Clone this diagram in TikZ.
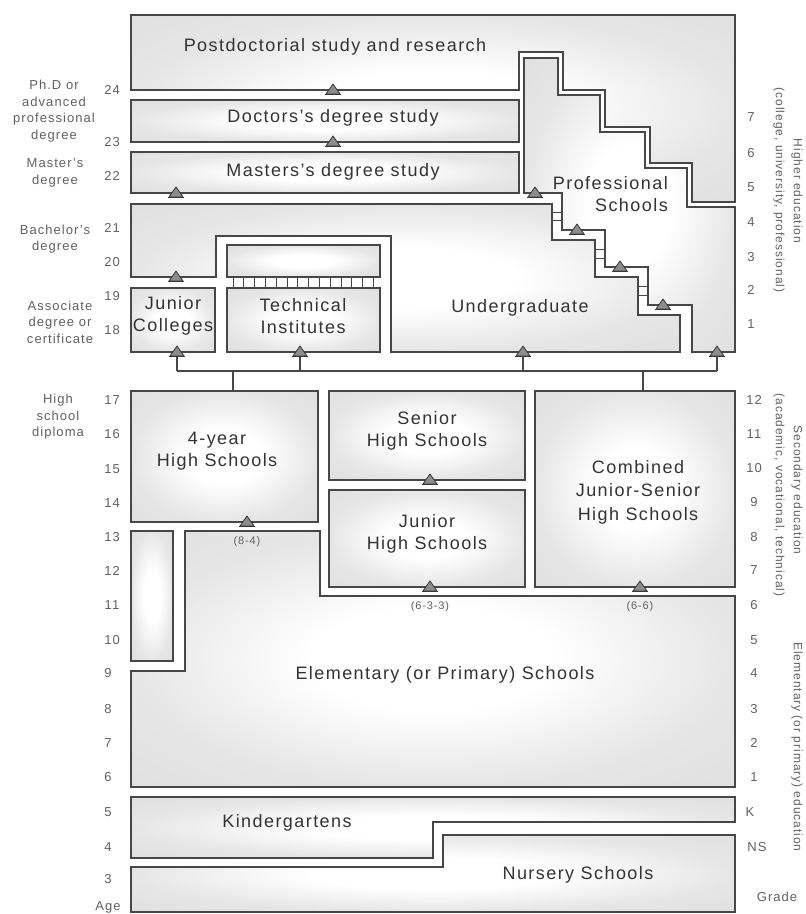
\documentclass[tikz,border=0pt]{standalone}
\usepackage{fontspec}
\setmainfont{Liberation Sans}[LetterSpace=8]
\pgfdeclareradialshading{glow}{\pgfpoint{0bp}{0bp}}{color(0bp)=(white); color(10bp)=(white); color(25bp)=(black!10); color(50bp)=(black!15)}
\newcommand\bigtxt{\fontsize{18}{22}\selectfont}
\newcommand\smtxt{\fontsize{13}{16.5}\selectfont}
\newcommand\rottxt{\fontsize{12}{14}\selectfont}
\newcommand\tintxt{\fontsize{11}{13}\selectfont}
\tikzset{
  box/.style={draw=black!72, line width=1.3pt, shade, shading=glow},
  rung/.style={draw=black!72, line width=0.9pt},
  conn/.style={draw=black!72, line width=1.1pt},
  lab/.style={font=\bigtxt, text=black!80, align=center, inner sep=0pt},
  side/.style={font=\smtxt, text=black!62, align=center, inner sep=0pt},
  num/.style={font=\smtxt, text=black!62, inner sep=0pt},
  rot/.style={font=\rottxt, text=black!62, rotate=-90, inner sep=0pt},
  tri/.pic={\draw[fill=black!45, draw=black!78, line width=0.8pt, line join=round] (-7,4) -- (0,-6) -- (7,4) -- cycle;
            \draw[black!78, line width=0.8pt] (-8,4) -- (8,4);}
}
\begin{document}
\begin{tikzpicture}[x=1pt,y=-1pt]
\useasboundingbox (0,0) rectangle (806,914);

% ---------------- higher education ----------------
\path[box] (131,15) -- (735,15) -- (735,202) -- (692,202) -- (692,163) -- (650,163)
  -- (650,127) -- (605,127) -- (605,90) -- (563,90) -- (563,52) -- (519,52) -- (519,90)
  -- (131,90) -- cycle;
\path[box] (131,100) rectangle (519,142);
\path[box] (131,152) rectangle (519,193);
\path[box] (524,58) -- (558,58) -- (558,95) -- (600,95) -- (600,132) -- (645,132)
  -- (645,168) -- (687,168) -- (687,207) -- (735,207) -- (735,352) -- (692,352)
  -- (692,305) -- (648,305) -- (648,267) -- (605,267) -- (605,230) -- (562,230)
  -- (562,193) -- (524,193) -- cycle;
\path[box] (131,204) -- (552,204) -- (552,240) -- (595,240) -- (595,277) -- (638,277)
  -- (638,315) -- (680,315) -- (680,352) -- (391,352) -- (391,236) -- (216,236)
  -- (216,277) -- (131,277) -- cycle;
\path[box] (227,245) rectangle (380,277);
\path[box] (227,288) rectangle (380,352);
\path[box] (131,288) rectangle (215,352);

% ladders
\foreach \i in {0,...,13} \draw[rung] (233+10.8*\i,277) -- (233+10.8*\i,288);
\foreach \y in {212,220} \draw[rung] (552,\y) -- (562,\y);
\foreach \y in {249,258} \draw[rung] (595,\y) -- (605,\y);
\foreach \y in {286,295} \draw[rung] (638,\y) -- (648,\y);

% ---------------- secondary ----------------
\path[box] (131,391) rectangle (318,522);
\path[box] (329,391) rectangle (525,480);
\path[box] (329,490) rectangle (525,587);
\path[box] (535,391) rectangle (735,587);

% ---------------- elementary & pre-school ----------------
\path[box] (131,531) rectangle (173,661);
\path[box] (185,531) -- (320,531) -- (320,596) -- (735,596) -- (735,787) -- (131,787)
  -- (131,671) -- (185,671) -- cycle;
\path[box] (131,797) -- (735,797) -- (735,822) -- (433,822) -- (433,858) -- (131,858) -- cycle;
\path[box] (131,867) -- (443,867) -- (443,835) -- (735,835) -- (735,912) -- (131,912) -- cycle;

% ---------------- connectors ----------------
\coordinate (bj) at (177,371);
\coordinate (bt) at (300,371);
\coordinate (bu) at (523,371);
\coordinate (bp) at (717,371);
\coordinate (bf) at (233,371);
\coordinate (bc) at (643,371);
\coordinate (mj) at (177,352);
\coordinate (mt) at (300,352);
\coordinate (mu) at (523,352);
\coordinate (mp) at (717,352);
\coordinate (tf) at (233,391);
\coordinate (tc) at (643,391);
\draw[conn] (bj) -- (bp);
\draw[conn] (bj) -- (mj);
\draw[conn] (bt) -- (mt);
\draw[conn] (bu) -- (mu);
\draw[conn] (bp) -- (mp);
\draw[conn] (bf) -- (tf);
\draw[conn] (bc) -- (tc);

% ---------------- markers ----------------
\foreach \p in {(333,90),(333,142),(176,193),(176,277),(177,352),(300,352),(523,352),(717,352),
  (535,193),(577,230),(620,267),(663,305),(247,522),(430,480),(430,587),(640,587)}
  \pic at \p {tri};

% ---------------- box labels ----------------
\node[lab] (postdoc) at (335,47) {Postdoctorial study and research};
\node[lab] (doctor) at (333,118) {Doctors's degree study};
\node[lab] (master) at (333,172) {Masters's degree study};
\node[lab, align=right, anchor=east] (prof) at (668,194) {Professional\\Schools};
\node[lab] (under) at (520,308) {Undergraduate};
\node[lab] (jc) at (173,316) {Junior\\Colleges};
\node[lab] (tech) at (303,316) {Technical\\Institutes};
\node[lab] (fouryr) at (217,451) {4-year\\High Schools};
\node[lab] (senior) at (427,431) {Senior\\High Schools};
\node[lab] (junior) at (427,534) {Junior\\High Schools};
\node[lab, font=\fontsize{18}{23.5}\selectfont] (comb) at (638,492) {Combined\\Junior-Senior\\High Schools};
\node[lab] (elem) at (445,675) {Elementary (or Primary) Schools};
\node[lab] (kinder) at (287,823) {Kindergartens};
\node[lab] (nurs) at (578,875) {Nursery Schools};
\node[num, font=\tintxt] (p84) at (247,542) {(8-4)};
\node[num, font=\tintxt] (p633) at (430,607) {(6-3-3)};
\node[num, font=\tintxt] (p66) at (640,607) {(6-6)};

% ---------------- left side ----------------
\node[side] (phd) at (54,111) {Ph.D or\\advanced\\professional\\degree};
\node[side] (msd) at (55,173) {Master's\\degree};
\node[side] (bad) at (55,239) {Bachelor's\\degree};
\node[side] (asd) at (60,322) {Associate\\degree or\\certificate};
\node[side] (hsd) at (58,417) {High\\school\\diploma};
\foreach \a/\y in {24/90,23/142,22/176,21/228,20/262,19/296,18/330,17/400,16/434,15/469,14/503,13/537,12/571,11/605,10/640}
  \node[num] (age\a) at (112,\y) {\a};
\foreach \a/\y in {9/673,8/709,7/743,6/777,5/812,4/847,3/879}
  \node[num] (age\a) at (108,\y) {\a};
\node[num] (agelab) at (108,907) {Age};

% ---------------- right side ----------------
\foreach \g/\y in {7/117,6/153,5/187,4/222,3/257,2/290,1/324}
  \node[num] (hg\g) at (751,\y) {\g};
\foreach \g/\y in {12/400,11/434,10/468,9/502,8/537,7/570,6/605,5/640,4/673,3/709,2/743,1/777}
  \node[num] (sg\g) at (754,\y) {\g};
\node[num] (gk) at (750,812) {K};
\node[num] (gns) at (757,847) {NS};
\node[num] (gradelab) at (777,897) {Grade};

\node[rot] (hied) at (797,191) {Higher education};
\node[rot] (hied2) at (779,190) {(college, university, professional)};
\node[rot] (sed) at (797,490) {Secondary education};
\node[rot] (sed2) at (779,495) {(academic, vocational, technical)};
\node[rot] (eed) at (797,747) {Elementary (or primary) education};
\end{tikzpicture}
\end{document}
